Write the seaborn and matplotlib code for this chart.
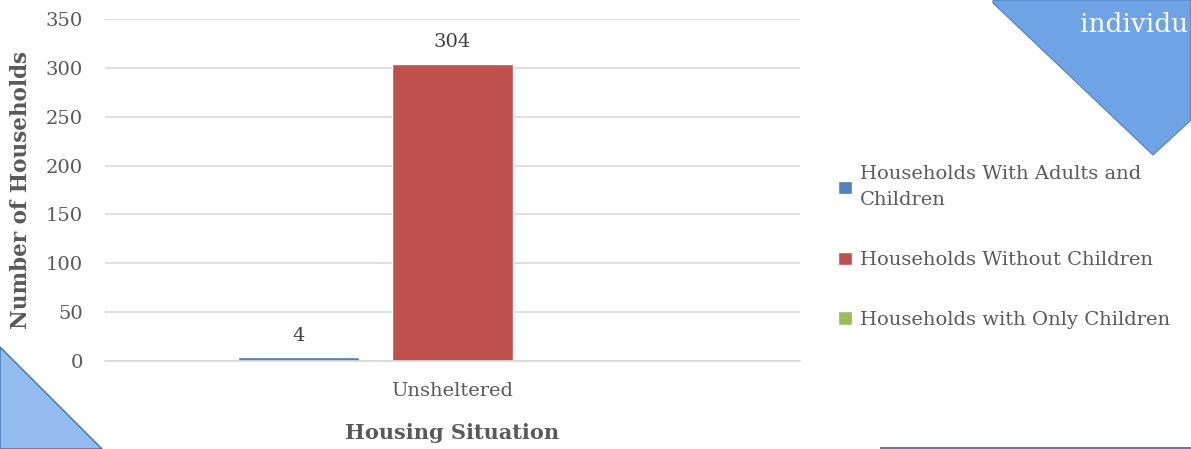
import numpy as np
import pandas as pd
import matplotlib
matplotlib.use("Agg")
import matplotlib.pyplot as plt
import seaborn as sns
from matplotlib.patches import Polygon, Rectangle

categories = ["Unsheltered"]
series = ["Households With Adults and\nChildren", "Households Without Children",
          "Households with Only Children"]
values = [4, 304, 0]
colors = ["#4f81bd", "#c0504d", "#9bbb59"]
y_ticks = [0, 50, 100, 150, 200, 250, 300, 350]

df = pd.DataFrame({"situation": categories * len(series), "group": series, "count": values})

sns.set_style("white")
plt.rcParams["font.family"] = ["DejaVu Serif"]
text_col = "#595959"

fig = plt.figure(figsize=(11.91, 4.49), dpi=100)
ax = fig.add_axes([0.0882, 0.196, 0.5835, 0.7617])

sns.barplot(data=df, x="situation", y="count", hue="group", palette=colors,
            width=0.665, gap=0.214, saturation=1, ax=ax, legend=True)

ax.set_ylim(0, 350)
ax.set_yticks(y_ticks)
ax.grid(axis="y", color="#d9d9d9", linewidth=1.2)
ax.set_axisbelow(True)
for s in ["top", "right", "left"]:
    ax.spines[s].set_visible(False)
ax.spines["bottom"].set_color("#d9d9d9")
ax.spines["bottom"].set_linewidth(1.2)
ax.tick_params(axis="both", length=0, labelsize=14, labelcolor=text_col)
ax.tick_params(axis="y", pad=16)
ax.tick_params(axis="x", pad=15)

ax.set_ylabel("Number of Households", fontsize=15.5, fontweight="bold", color=text_col, labelpad=10)
ax.set_xlabel("Housing Situation", fontsize=15, fontweight="bold", color=text_col, labelpad=17)

for cont in ax.containers:
    labels = [f"{int(v)}" if v > 0 else "" for v in cont.datavalues]
    ax.bar_label(cont, labels=labels, padding=9, fontsize=14, color="#404040")

W, H = 1191, 449
leg = ax.legend(loc="upper left", bbox_to_anchor=(838 / W, 1 - 165 / H),
                bbox_transform=fig.transFigure, borderpad=0, borderaxespad=0,
                frameon=False, fontsize=14, labelcolor=text_col,
                handlelength=0.7, handleheight=0.7, handletextpad=0.45, labelspacing=2.15)
for t in leg.get_texts():
    t.set_linespacing(1.6)

# slide decorations overlapping the chart
def px(pts):
    return [(x / W, 1 - y / H) for x, y in pts]

fig.patches.append(Polygon(px([(993, 0), (993, 3), (1153, 155), (1191, 120), (1191, 0)]),
                           closed=True, transform=fig.transFigure, facecolor="#6ea3e6",
                           edgecolor="#4f81bd", linewidth=0.8, zorder=5))
fig.text(1080 / W, 1 - 24 / H, "individu", color="white", fontsize=19, ha="left", va="center", zorder=6)
fig.patches.append(Polygon(px([(0, 347), (102, 449), (0, 449)]), closed=True,
                           transform=fig.transFigure, facecolor="#93bdf0",
                           edgecolor="#3f6fae", linewidth=1, zorder=5))
fig.patches.append(Rectangle((880 / W, 0), (W - 880) / W, 2.5 / H, transform=fig.transFigure,
                             facecolor="#4f81bd", edgecolor="none", zorder=5))

fig.savefig("out.png", dpi=100)
